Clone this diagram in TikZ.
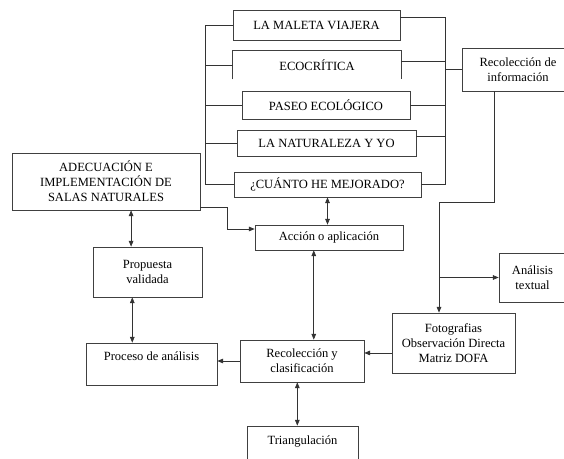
\documentclass[tikz,border=0pt]{standalone}
\usepackage{fontspec}
\setmainfont{Liberation Serif}
\usetikzlibrary{arrows.meta}
\newcommand\upx{0.03cm}

\tikzset{
  caja/.style 2 args={draw=black!75, line width=.6pt, align=center, inner sep=0pt,
    minimum width=#1*\upx, minimum height=#2*\upx,
    font=\fontsize{10.7}{12.75}\selectfont},
  mayus/.style={font=\fontsize{11.5}{12.75}\selectfont},
  linea/.style={draw=black!80, line width=.6pt},
  flecha/.style={linea, -{Triangle[length=5pt,width=4pt]}},
  doble/.style={linea, {Triangle[length=5pt,width=4pt]}-{Triangle[length=5pt,width=4pt]}}
}

\begin{document}
\begin{tikzpicture}[x=\upx, y=-\upx]

        \clip (0,0) rectangle (564,459);

        \begin{scope}[every node/.style={mayus}]
          \node[caja={167}{30}] (maleta)     at (316.5,25)  {LA MALETA VIAJERA};
          \node[caja={168}{28}, draw=none] (eco) at (317,65) {ECOCRÍTICA};
          \node[caja={168}{28}] (paseo)      at (326,105)   {PASEO ECOLÓGICO};
          \node[caja={179}{26}] (naturaleza) at (326.5,143) {LA NATURALEZA Y YO};
          \node[caja={187}{25}] (cuanto)     at (327.5,184.5) {¿CUÁNTO HE MEJORADO?};
          \node[caja={188}{57}] (adecuacion) at (106,181.5) {ADECUACIÓN E\\IMPLEMENTACIÓN DE\\SALAS NATURALES};
        \end{scope}

        \node[caja={112}{43}] (recinfo)    at (518,69.5)  {Recolección de\\información};
        \node[caja={148}{25}] (accion)     at (329,237.5) {Acción o aplicación};
        \node[caja={109}{50}] (propuesta)  at (147.5,272) {Propuesta\\validada};
        \node[caja={131}{42}] (proceso)    at (151.5,364) {Proceso de análisis\\\mbox{}};
        \node[caja={124}{42}] (recclas)    at (302,361)   {Recolección y\\clasificación};
        \node[caja={111}{44}] (triang)     at (302.5,448) {Triangulación\\\mbox{}};
        \node[caja={123}{60}] (foto)       at (453.5,343) {Fotografias\\Observación Directa\\Matriz DOFA};
        \node[caja={67}{49}]  (analisis)   at (532.5,277.5) {Análisis\\textual};

        \draw[caja={1}{1}] (eco.south west) |- (eco.north east) -- (eco.south east);

        \coordinate (izq) at (205,0);
        \coordinate (der) at (445,0);
        \coordinate (r1)  at (494,202);
        \coordinate (r2)  at (439,202);
        \coordinate (a1)  at (227,229);

        \draw[linea] (maleta.west) -- (maleta.west -| izq) -- (cuanto.west -| izq) -- (cuanto.west);
        \foreach \n in {eco,paseo,naturaleza}
          \draw[linea] (\n.west) -- (\n.west -| izq);

        \draw[linea] ([yshift=6.8pt]maleta.east) -- ([yshift=6.8pt]maleta.east -| der)
          -- (cuanto.east -| der) -- (cuanto.east);
        \draw[linea] ([yshift=3.4pt]eco.east) -- ([yshift=3.4pt]eco.east -| der);
        \draw[linea] (paseo.east) -- (paseo.east -| der);
        \draw[linea] ([yshift=6pt]naturaleza.east) -- ([yshift=6pt]naturaleza.east -| der);
        \draw[linea] (recinfo.west -| der) -- (recinfo.west);

        \draw[flecha] (r1 |- recinfo.south) -- (r1) -- (r2) -- (r2 |- foto.north);
        \draw[flecha] (r2 |- analisis.west) -- (analisis.west);

        \draw[flecha] ([yshift=2.5pt]adecuacion.south east) -| (a1) -- (a1 -| accion.west);
        \draw[doble] (cuanto.south) -- (cuanto.south |- accion.north);
        \draw[doble] ([xshift=-14pt]propuesta.north |- adecuacion.south) -- ([xshift=-14pt]propuesta.north);
        \draw[doble] ([xshift=-13pt]propuesta.south) -- ([xshift=-13pt]propuesta.south |- proceso.north);
        \draw[flecha] (recclas.west) -- (recclas.west -| proceso.east);
        \draw[doble] ([xshift=-13pt]accion.south) -- ([xshift=-13pt]accion.south |- recclas.north);
        \draw[doble] ([xshift=-4pt]recclas.south) -- ([xshift=-4pt]recclas.south |- triang.north);
        \draw[flecha] ([yshift=-8.5pt]foto.west) -- ([yshift=-8.5pt]foto.west -| recclas.east);

      \end{tikzpicture}
\end{document}
